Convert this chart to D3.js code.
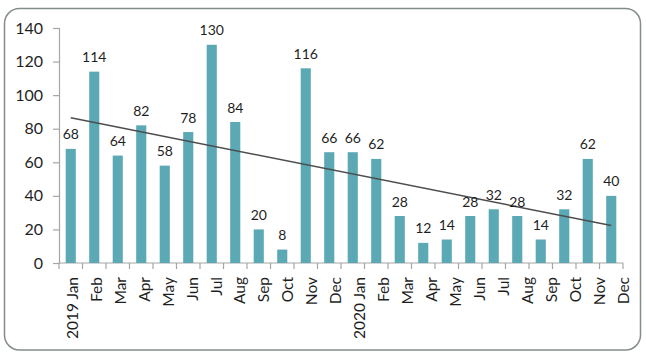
<!DOCTYPE html>
<html>
<head>
<meta charset="utf-8">
<script src="https://cdn.jsdelivr.net/npm/d3@7"></script>
<style>
  html, body { margin: 0; padding: 0; background: #fff; }
  svg { display: block; }
  text { font-family: Lato, "Open Sans", sans-serif; fill: #1f1f1f; }
</style>
</head>
<body>
<svg id="chart" width="646" height="359"></svg>
<script>
const categories = ["2019 Jan","Feb","Mar","Apr","May","Jun","Jul","Aug","Sep","Oct","Nov","Dec",
                    "2020 Jan","Feb","Mar","Apr","May","Jun","Jul","Aug","Sep","Oct","Nov","Dec"];
const values = [68,114,64,82,58,78,130,84,20,8,116,66,66,62,28,12,14,28,32,28,14,32,62,40];
const yTicks = [0,20,40,60,80,100,120,140];

const W = 646, H = 359;
const plot = {left: 59, right: 623, top: 28, bottom: 263};
const svg = d3.select("#chart");

// frame
svg.append("rect")
  .attr("x", 4.5).attr("y", 8.5).attr("width", 636).attr("height", 341.5)
  .attr("rx", 15).attr("ry", 15)
  .attr("fill", "#fff").attr("stroke", "#858c8c").attr("stroke-width", 1.5);

const keys = categories.map((c, i) => i);
const x = d3.scaleBand().domain(keys).range([plot.left, plot.right]).paddingInner(0.57).paddingOuter(0.285);
const y = d3.scaleLinear().domain([0, 140]).range([plot.bottom, plot.top]);
const xCenter = i => x(i) + x.bandwidth() / 2;
// label positions (spread slightly wider than the bars, as in the source)
const xl = d3.scalePoint().domain(keys).range([xCenter(0) + 1.5, plot.right]);

// y axis
const yAxis = svg.append("g").attr("transform", `translate(${plot.left},0)`)
  .call(d3.axisLeft(y).tickValues(yTicks).tickSize(6).tickPadding(10));
yAxis.select(".domain").attr("stroke", "#a6a6a6").attr("stroke-width", 1.2);
yAxis.selectAll(".tick line").attr("stroke", "#a6a6a6").attr("stroke-width", 1.2);
yAxis.selectAll(".tick text").attr("font-size", 16).attr("font-family", "Lato").attr("fill", "#1f1f1f");

// x axis (ticks between categories)
const xAxisG = svg.append("g").attr("transform", `translate(0,${plot.bottom})`);
const bandEdges = d3.range(categories.length + 1).map(i => plot.left + i * x.step());
xAxisG.append("line").attr("x1", plot.left).attr("x2", plot.right).attr("y1", 0).attr("y2", 0)
  .attr("stroke", "#a6a6a6").attr("stroke-width", 1.2);
xAxisG.selectAll("line.tk").data(bandEdges).join("line").attr("class", "tk")
  .attr("x1", d => d).attr("x2", d => d).attr("y1", 0).attr("y2", 6)
  .attr("stroke", "#a6a6a6").attr("stroke-width", 1.2);
xAxisG.selectAll("text.xl").data(keys).join("text").attr("class", "xl")
  .attr("transform", i => `translate(${xl(i)},14) rotate(-90)`)
  .attr("text-anchor", "end").attr("dy", "0.36em")
  .attr("font-size", 15.5)
  .text(i => categories[i]);

// bars
svg.append("g").selectAll("rect").data(keys).join("rect")
  .attr("x", i => x(i)).attr("width", x.bandwidth())
  .attr("y", i => y(values[i])).attr("height", i => y(0) - y(values[i]))
  .attr("fill", "#5aa9b5");

// trendline (least squares)
const n = values.length;
const xs = d3.range(1, n + 1);
const mx = d3.mean(xs), my = d3.mean(values);
const slope = d3.sum(xs, (v, i) => (v - mx) * (values[i] - my)) / d3.sum(xs, v => (v - mx) ** 2);
const icpt = my - slope * mx;
svg.append("line")
  .attr("x1", xCenter(0)).attr("y1", y(icpt + slope * 1))
  .attr("x2", xCenter(n - 1)).attr("y2", y(icpt + slope * n))
  .attr("stroke", "#4d4d4d").attr("stroke-width", 1.5);

// data labels
svg.append("g").selectAll("text").data(keys).join("text")
  .attr("x", i => xCenter(i)).attr("y", i => y(values[i]) - 9.5)
  .attr("text-anchor", "middle").attr("font-size", 14)
  .text(i => values[i]);
</script>
</body>
</html>
